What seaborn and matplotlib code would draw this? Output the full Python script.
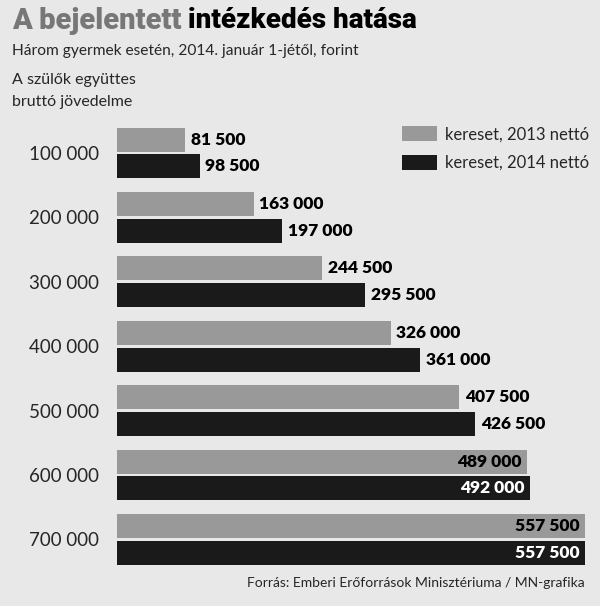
import pandas as pd
import seaborn as sns
import matplotlib.pyplot as plt

incomes = ["100 000", "200 000", "300 000", "400 000", "500 000", "600 000", "700 000"]
net_2013 = [81500, 163000, 244500, 326000, 407500, 489000, 557500]
net_2014 = [98500, 197000, 295500, 361000, 426500, 492000, 557500]
series = ["kereset, 2013 nettó", "kereset, 2014 nettó"]

df = pd.DataFrame({
    "income": incomes * 2,
    "value": net_2013 + net_2014,
    "series": [series[0]] * len(incomes) + [series[1]] * len(incomes),
})

bg = "#e8e8e8"
gray = "#999999"
black = "#1a1a1a"

sns.set_style("white")
plt.rcParams["font.family"] = ["Lato", "DejaVu Sans"]

W, H = 600, 606
fig = plt.figure(figsize=(W / 100, H / 100), dpi=100, facecolor=bg)
ax = fig.add_axes([117 / W, 1 - 571.7 / H, 468 / W, 450.9 / H])
ax.set_facecolor(bg)

sns.barplot(data=df, y="income", x="value", hue="series", orient="h",
            palette=[gray, black], width=0.83, gap=0.1, ax=ax,
            edgecolor="none", saturation=1)

ax.set_xlim(0, max(net_2013 + net_2014))
ax.set_ylim(len(incomes) - 0.5, -0.5)
sns.despine(ax=ax, left=True, bottom=True)
ax.set_xticks([])
ax.set_xlabel("")
ax.set_ylabel("")
ax.tick_params(axis="y", length=0, pad=13, labelsize=13.5)

# value labels
vmax = max(net_2013 + net_2014)
for cont, col in zip(ax.containers, [gray, black]):
    for bar in cont:
        v = bar.get_width()
        y = bar.get_y() + bar.get_height() / 2
        txt = f"{int(v):,}".replace(",", " ")
        if v > 0.85 * vmax:
            ax.text(v - vmax * 0.012, y, txt, ha="right", va="center",
                    fontsize=12.5, fontweight="heavy",
                    color="white" if col == black else "black")
        else:
            ax.text(v + vmax * 0.012, y, txt, ha="left", va="center",
                    fontsize=12.5, fontweight="heavy", color="black")

sns.move_legend(ax, "upper left", bbox_to_anchor=(402 / W, 1 - 126 / H),
                bbox_transform=fig.transFigure, frameon=False, title=None,
                fontsize=12, handlelength=2.1, handleheight=1.0,
                labelspacing=0.75, handletextpad=0.5, borderpad=0,
                borderaxespad=0)

t1 = fig.text(12 / W, 1 - 21 / H, "A bejelentett", ha="left", va="center",
              fontsize=21, fontweight="heavy", color="#777777",
              family=["Roboto", "DejaVu Sans"])
fig.canvas.draw()
bb = t1.get_window_extent()
fig.text((bb.x1 + 7) / W, 1 - 21 / H, "intézkedés hatása", ha="left", va="center",
         fontsize=20, fontweight="heavy", color="black",
         family=["Roboto", "DejaVu Sans"])
fig.text(12 / W, 1 - 51 / H, "Három gyermek esetén, 2014. január 1-jétől, forint",
         ha="left", va="center", fontsize=11.2)
fig.text(12 / W, 1 - 80 / H, "A szülők együttes", ha="left", va="center", fontsize=11.5)
fig.text(12 / W, 1 - 102 / H, "bruttó jövedelme", ha="left", va="center", fontsize=11.5)
fig.text(585 / W, 1 - 583 / H, "Forrás: Emberi Erőforrások Minisztériuma / MN-grafika",
         ha="right", va="center", fontsize=10)

fig.savefig("out.png", dpi=100, facecolor=bg)
